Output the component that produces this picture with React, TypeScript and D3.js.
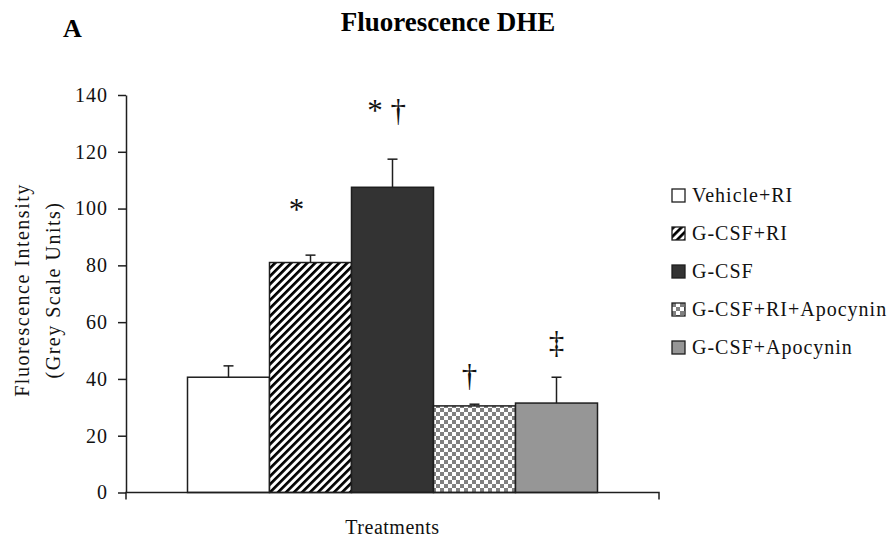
import React, { useEffect, useRef } from 'react';
import * as d3 from 'd3';

const categories = ['Vehicle+RI', 'G-CSF+RI', 'G-CSF', 'G-CSF+RI+Apocynin', 'G-CSF+Apocynin'];
const means = [40.6, 81.0, 107.5, 30.5, 31.5];
const errors = [4.0, 2.6, 9.9, 0.6, 9.1];
const marks = ['', '*', '* \u2020', '\u2020', '\u2021'];
const markLevels = [0, 96, 131, 37.5, 49];
const yTicks = [0, 20, 40, 60, 80, 100, 120, 140];
const fills = ['#ffffff', 'url(#stripes)', '#333333', 'url(#checker)', '#969696'];

const FONT = '"Liberation Serif", "Times New Roman", serif';

const App = () => {
  const ref = useRef<SVGSVGElement | null>(null);

  useEffect(() => {
    const svg = d3.select(ref.current);
    svg.selectAll('*').remove();

    const left = 126;
    const right = 659;
    const top = 95;
    const bottom = 492.5;
    const ink = '#1e1e1e';

    const defs = svg.append('defs');
    const stripes = defs.append('pattern')
      .attr('id', 'stripes')
      .attr('patternUnits', 'userSpaceOnUse')
      .attr('width', 5.66)
      .attr('height', 10)
      .attr('patternTransform', 'rotate(45)');
    stripes.append('rect').attr('width', 5.66).attr('height', 10).attr('fill', '#fff');
    stripes.append('rect').attr('width', 2.7).attr('height', 10).attr('fill', '#000');

    const checker = defs.append('pattern')
      .attr('id', 'checker')
      .attr('patternUnits', 'userSpaceOnUse')
      .attr('width', 8)
      .attr('height', 8);
    checker.append('rect').attr('width', 8).attr('height', 8).attr('fill', '#fff');
    checker.append('rect').attr('width', 4).attr('height', 4).attr('fill', '#808080');
    checker.append('rect').attr('x', 4).attr('y', 4).attr('width', 4).attr('height', 4).attr('fill', '#808080');

    const x = d3.scaleBand<string>()
      .domain(categories)
      .range([left, right])
      .paddingInner(0)
      .paddingOuter(0.75);

    const y = d3.scaleLinear().domain([0, 140]).range([bottom, top]);

    // titles
    svg.append('text')
      .attr('x', 63).attr('y', 37)
      .attr('font-family', FONT).attr('font-weight', 'bold').attr('font-size', 26)
      .text('A');
    svg.append('text')
      .attr('x', 448).attr('y', 31)
      .attr('text-anchor', 'middle')
      .attr('font-family', FONT).attr('font-weight', 'bold').attr('font-size', 27)
      .text('Fluorescence DHE');

    // bars
    const g = svg.append('g');
    g.selectAll('rect.bar')
      .data(means)
      .enter().append('rect')
      .attr('class', 'bar')
      .attr('x', (d, i) => x(categories[i]) as number)
      .attr('y', d => y(d))
      .attr('width', x.bandwidth())
      .attr('height', d => y(0) - y(d))
      .attr('fill', (d, i) => fills[i])
      .attr('stroke', ink)
      .attr('stroke-width', 1.5);

    // error bars
    means.forEach((m, i) => {
      const cx = (x(categories[i]) as number) + x.bandwidth() / 2;
      g.append('line')
        .attr('x1', cx).attr('x2', cx)
        .attr('y1', y(m)).attr('y2', y(m + errors[i]))
        .attr('stroke', ink).attr('stroke-width', 1.5);
      g.append('line')
        .attr('x1', cx - 5).attr('x2', cx + 5)
        .attr('y1', y(m + errors[i])).attr('y2', y(m + errors[i]))
        .attr('stroke', ink).attr('stroke-width', 1.5);
    });

    // significance marks
    const markShift = [0, -14, -6, -5, 0];
    marks.forEach((t, i) => {
      if (!t) return;
      const cx = (x(categories[i]) as number) + x.bandwidth() / 2 + markShift[i];
      g.append('text')
        .attr('x', cx).attr('y', y(markLevels[i]))
        .attr('text-anchor', 'middle')
        .attr('font-family', FONT).attr('font-size', 31)
        .attr('fill', '#111')
        .text(t);
    });

    // y axis
    const yAxis = svg.append('g')
      .attr('transform', `translate(${left},0)`)
      .call(d3.axisLeft(y).tickValues(yTicks).tickSize(8).tickPadding(10).tickSizeOuter(0));
    yAxis.select('.domain').attr('stroke', ink).attr('stroke-width', 1.5);
    yAxis.selectAll('.tick line').attr('stroke', ink).attr('stroke-width', 1.5);
    yAxis.selectAll('.tick text')
      .attr('font-family', FONT).attr('font-size', 20).attr('letter-spacing', 1)
      .attr('fill', '#111');

    // x axis: a single line with end ticks
    const xAxis = svg.append('g');
    xAxis.append('path')
      .attr('d', `M${left},${bottom + 7}V${bottom}H${right}V${bottom + 7}`)
      .attr('fill', 'none').attr('stroke', ink).attr('stroke-width', 1.5);

    svg.append('text')
      .attr('x', (left + right) / 2).attr('y', 534)
      .attr('text-anchor', 'middle')
      .attr('font-family', FONT).attr('font-size', 20).attr('letter-spacing', 0.5)
      .attr('fill', '#111')
      .text('Treatments');

    const yl = svg.append('text')
      .attr('transform', 'translate(29,290) rotate(-90)')
      .attr('text-anchor', 'middle')
      .attr('font-family', FONT).attr('font-size', 20).attr('letter-spacing', 1.5)
      .attr('fill', '#111');
    yl.append('tspan').attr('x', 0).attr('y', 0).text('Fluorescence Intensity');
    yl.append('tspan').attr('x', 0).attr('y', 31).text('(Grey Scale Units)');

    // legend
    const legend = svg.append('g').attr('transform', 'translate(672,189)');
    categories.forEach((c, i) => {
      const row = legend.append('g').attr('transform', `translate(0,${i * 38})`);
      row.append('rect')
        .attr('width', 13).attr('height', 13)
        .attr('fill', fills[i])
        .attr('stroke', ink).attr('stroke-width', 1.3);
      row.append('text')
        .attr('x', 20).attr('y', 13)
        .attr('font-family', FONT).attr('font-size', 20).attr('letter-spacing', 1)
        .attr('fill', '#111')
        .text(c);
    });
  }, []);

  return (
    <svg
      ref={ref}
      width={889}
      height={543}
      style={{ position: 'absolute', left: 0, top: 0, background: '#fff' }}
    />
  );
};

export default App;
